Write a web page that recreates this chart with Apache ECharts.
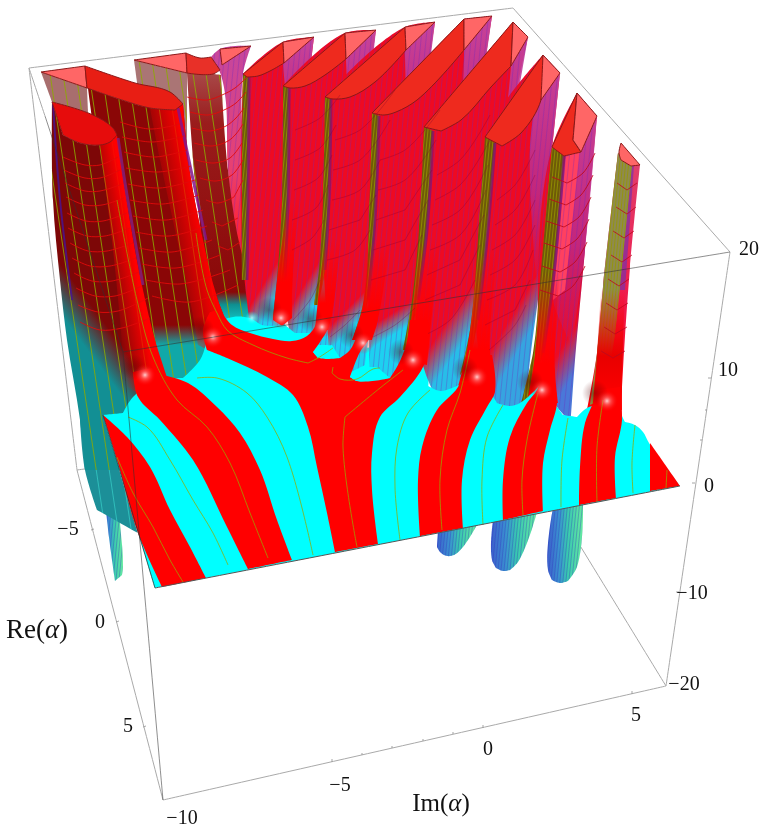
<!DOCTYPE html>
<html>
<head>
<meta charset="utf-8">
<title>Re(α) Im(α) surface</title>
<style>html,body{margin:0;padding:0;background:#fff}#main{width:769px;height:840px}</style>
<script src="https://cdn.jsdelivr.net/npm/echarts@6/dist/echarts.min.js"></script>
</head>
<body>
<div id="main"></div>
<script>
// tick labels
var reTicks = ['−5', '0', '5'];
var imTicks = ['−10', '−5', '0', '5'];
var zTicks = ['20', '10', '0', '−10', '−20'];
var rePos = [[68, 530], [100, 623], [128, 727]];
var imPos = [[182, 819], [340, 786], [488, 750], [636, 716]];
var zPos = [[749, 250], [728, 371], [709, 487], [692, 594], [684, 685]];

// bounding box, in picture units
var boxBack = [[[29, 68], [77, 470]], [[77, 470], [163, 800]], [[163, 800], [666, 686]], [[666, 686], [560, 513]], [[77, 470], [92, 468]], [[29, 68], [513, 8]], [[513, 8], [730, 252]], [[730, 252], [666, 686]], [[29, 68], [45, 116]]];
var boxFront = [[[45, 116], [123, 352]], [[123, 352], [730, 252]], [[123, 352], [163, 800]]];
var ticks = [[[91, 530], [94, 529]], [[116, 622], [119, 621]], [[143, 727], [146, 726]], [[332, 762], [332, 759]], [[362, 755], [362, 753]], [[392, 748], [392, 746]], [[423, 741], [423, 739]], [[453, 734], [453, 732]], [[483, 728], [483, 725]], [[632, 694], [632, 691]], [[711, 378], [708, 378]], [[707, 410], [705, 410]], [[702, 440], [700, 440]], [[695, 483], [692, 483]], [[679, 592], [676, 592]]];

// floor
var backFill = [[225, 280], [300, 335], [430, 350], [428, 395], [345, 395], [225, 330]];
var floorCyan = [[103, 415], [123, 413], [133, 397], [160, 380], [183, 378], [200, 360], [212, 330], [228, 318], [250, 318], [262, 325], [285, 325], [295, 333], [310, 333], [314, 352], [340, 358], [350, 378], [390, 378], [400, 370], [428, 386], [440, 391], [452, 388], [470, 380], [490, 393], [497, 403], [510, 406], [520, 403], [540, 385], [557, 407], [563, 415], [577, 417], [587, 408], [620, 400], [621, 413], [625, 422], [635, 425], [643, 432], [649, 443], [680, 486], [155, 588]];
var bandA = [[103, 415], [127, 437], [150, 467], [170, 510], [190, 547], [206, 578], [162, 587], [138, 533], [117, 460]];
var bandB = [[138, 397], [133, 372], [160, 366], [163, 375], [188, 383], [217, 407], [240, 433], [260, 470], [277, 520], [292, 560], [248, 569], [227, 527], [193, 460], [160, 420]];
var trunk = [[335, 552], [327, 513], [317, 467], [308, 427], [293, 395], [267, 377], [227, 358], [207, 350], [203, 330], [210, 312], [220, 310], [232, 325], [250, 333], [273, 339], [292, 341], [307, 336], [316, 324], [318, 305], [330, 305], [328, 328], [320, 342], [313, 352], [318, 358], [340, 358], [350, 350], [357, 335], [362, 310], [372, 310], [370, 337], [360, 352], [350, 377], [357, 381], [390, 378], [398, 365], [406, 345], [410, 320], [428, 320], [427, 353], [423, 367], [400, 397], [380, 417], [372, 453], [372, 490], [378, 544]];
var bandC = [[420, 536], [418, 480], [422, 447], [437, 410], [458, 387], [470, 355], [492, 355], [495, 392], [487, 407], [470, 440], [462, 480], [463, 528]];
var bandD = [[503, 520], [503, 480], [510, 437], [527, 403], [537, 390], [541, 378], [555, 385], [557, 403], [550, 430], [543, 463], [543, 511]];
var bandE = [[579, 505], [580, 467], [585, 423], [593, 403], [598, 390], [620, 387], [622, 420], [615, 457], [616, 498]];
var bandF = [[650, 491], [650, 443], [680, 486]];
var islandA = [[313, 352], [323, 347], [332, 345], [340, 358], [327, 359], [318, 358]];
var islandB = [[350, 377], [363, 368], [377, 367], [390, 378], [373, 380], [357, 381]];

// contour lines on the floor
var contours = [
    [[117, 457], [133, 493], [153, 527], [170, 560], [183, 582]],
    [[128, 417], [147, 427], [170, 460], [193, 500], [213, 533], [228, 565]],
    [[117, 200], [137, 300], [153, 357], [177, 400], [207, 427], [230, 463], [250, 513], [268, 558]],
    [[197, 378], [217, 378], [247, 393], [267, 417], [287, 457], [313, 555]],
    [[196, 233], [207, 290], [217, 313], [227, 330], [253, 345], [287, 358], [308, 363], [318, 358], [333, 348]],
    [[333, 367], [332, 373], [340, 379], [357, 379], [373, 369], [380, 368]],
    [[403, 370], [380, 388], [345, 417], [343, 447], [357, 547]],
    [[430, 390], [408, 413], [397, 447], [395, 487], [400, 540]],
    [[470, 350], [460, 393], [447, 430], [440, 480], [442, 530]],
    [[503, 405], [487, 437], [482, 480], [483, 525]],
    [[538, 393], [527, 440], [522, 480], [523, 515]],
    [[568, 418], [562, 460], [561, 507]],
    [[603, 400], [597, 447], [597, 502]],
    [[635, 425], [632, 463], [633, 493]],
    [[667, 470], [666, 488]]
];

// fins standing on the floor, back to front
var faces = [
    [[243, 74], [283, 42], [314, 37], [305, 110], [292, 200], [285, 335], [265, 335], [250, 325], [242, 250]],
    [[283, 86], [345, 33], [376, 30], [362, 130], [345, 260], [332, 345], [300, 345], [290, 335], [280, 250]],
    [[325, 97], [405, 27], [435, 22], [420, 120], [395, 250], [372, 320], [365, 365], [345, 375], [330, 360], [323, 250]],
    [[372, 113], [464, 19], [492, 16], [470, 150], [440, 280], [425, 340], [412, 385], [385, 395], [370, 385], [368, 250]],
    [[424, 127], [513, 22], [528, 37], [505, 150], [485, 280], [480, 360], [470, 400], [445, 405], [430, 385], [414, 300]],
    [[485, 137], [543, 55], [560, 73], [552, 150], [540, 283], [530, 360], [525, 415], [505, 420], [485, 400], [474, 297]],
    [[552, 147], [577, 93], [597, 116], [585, 250], [575, 360], [571, 416], [565, 416], [557, 407], [545, 380], [538, 283]]
];
var faceFade = [
    [[261, 288], [277, 298]], [[298, 295], [314, 305]], [[339, 317], [351, 329]], [[386, 317], [396, 333]],
    [[445, 325], [465, 339]], [[504, 329], [524, 341]], [[558, 354], [578, 366]]
];
var faceLow = ['#1ed0f0', '#1ed0f0', '#1ed0f0', '#1ed0f0', '#28bde8', '#36a4e0', '#4a78d8'];
var strips = [
    [[283, 42], [314, 37], [305, 110], [296, 170], [283, 63]],
    [[345, 33], [376, 30], [368, 100], [352, 200], [346, 60]],
    [[405, 27], [435, 22], [425, 100], [410, 190], [405, 55]],
    [[464, 19], [492, 16], [478, 110], [455, 220], [464, 60]],
    [[513, 22], [528, 37], [512, 130], [490, 250], [511, 66]],
    [[543, 55], [560, 73], [552, 150], [537, 285], [530, 150]],
    [[577, 93], [597, 116], [585, 250], [572, 345], [553, 300], [565, 160]]
];
var stripTop = [42, 33, 27, 19, 22, 55, 93];
var stripEnd = [170, 200, 190, 220, 250, 285, 345];
var capsRed = [
    [[243, 74], [283, 42], [284, 63], [270, 71], [258, 76], [247, 77]],
    [[283, 86], [345, 33], [346, 59], [325, 75], [305, 86], [290, 88]],
    [[325, 97], [405, 27], [406, 50], [375, 82], [350, 97], [333, 99]],
    [[372, 113], [464, 19], [464, 50], [417, 100], [396, 112], [384, 115]],
    [[424, 127], [513, 22], [511, 66], [491, 87], [461, 120], [441, 131]],
    [[485, 137], [543, 55], [541, 100], [521, 133], [502, 146]],
    [[552, 147], [577, 93], [573, 140], [581, 152], [564, 156]]
];
var capsPink = [
    [[283, 42], [314, 37], [284, 63]],
    [[345, 33], [376, 30], [346, 59]],
    [[405, 27], [435, 22], [406, 50]],
    [[464, 19], [492, 16], [464, 50]],
    [[513, 22], [528, 37], [511, 66]],
    [[543, 55], [560, 73], [541, 100]],
    [[577, 93], [597, 116], [581, 152], [573, 140]]
];
var olives = [
    [[243, 74], [249, 77], [248, 200], [247, 280], [242, 280], [242, 190]],
    [[283, 86], [289, 88], [288, 200], [285, 280], [277, 318], [273, 318], [277, 280], [282, 200]],
    [[325, 97], [331, 99], [329, 200], [325, 270], [318, 305], [314, 305], [319, 270], [323, 200]],
    [[372, 113], [379, 116], [375, 220], [368, 300], [358, 335], [354, 335], [364, 300], [369, 220]],
    [[424, 127], [433, 131], [427, 230], [418, 300], [408, 350], [403, 350], [412, 300], [419, 230]],
    [[485, 137], [495, 143], [487, 240], [478, 320], [468, 362], [460, 375], [470, 330], [478, 240]],
    [[552, 147], [564, 156], [553, 283], [543, 353], [527, 405], [520, 407], [533, 353], [540, 283]]
];
var stems = [
    [[288, 200], [298, 205], [292, 300], [292, 318], [282, 326], [273, 320], [277, 280]],
    [[325, 240], [340, 240], [332, 315], [328, 330], [315, 330], [318, 300]],
    [[368, 240], [390, 240], [378, 320], [372, 340], [352, 340], [362, 310]],
    [[420, 240], [440, 240], [430, 335], [427, 365], [405, 360], [410, 330]],
    [[478, 250], [498, 250], [490, 350], [495, 392], [458, 387], [468, 345]],
    [[541, 270], [560, 270], [555, 370], [558, 403], [527, 403], [535, 355]]
];
var pinkStrip = [[566, 157], [580, 150], [565, 290], [553, 300]];
var lastFin = [[618, 153], [640, 165], [630, 267], [622, 387], [621, 413], [587, 410], [597, 353], [603, 287]];
var lastFinOlive = [[618, 153], [632, 165], [620, 287], [612, 353], [600, 400], [590, 405], [597, 353], [603, 287]];
var lastFinPurple = [[628, 165], [634, 165], [625, 290], [618, 290]];
var lastFinStem = [[601, 290], [625, 290], [622, 387], [622, 410], [593, 403], [597, 355]];
var lastFinCap = [[619, 153], [621, 143], [640, 165], [631, 166], [621, 160]];
var glows = [[281, 318], [322, 327], [363, 343], [413, 360], [477, 377], [542, 390], [607, 401], [213, 337], [145, 375]];

// the big fins on the left
var wallB = [[41, 72], [87, 88], [88, 113], [52, 102]];
var wallC = [[134, 60], [187, 73], [187, 180], [150, 180]];
var capBPink = [[41, 72], [85, 66], [87, 88]];
var capBRed = [[85, 66], [135, 83], [170, 92], [183, 104], [175, 110], [150, 108], [122, 100], [87, 88]];
var capCPink = [[134, 60], [186, 53], [187, 73]];
var capCRed = [[186, 53], [200, 58], [211, 57], [220, 70], [213, 74], [187, 73]];
var capCBack = [[220, 49], [251, 46], [222, 65]];
var faceC = [[211, 57], [220, 49], [251, 46], [243, 74], [243, 150], [244, 285], [234, 240], [228, 170], [221, 75]];
var bodyC = [[187, 73], [213, 74], [221, 75], [228, 170], [237, 233], [250, 285], [260, 328], [235, 335], [212, 320], [195, 180]];
var bodyB = [[88, 88], [122, 100], [150, 108], [175, 110], [183, 104], [190, 173], [203, 240], [217, 297], [226, 330], [215, 360], [183, 385], [165, 385], [120, 260], [100, 170]];
var stemB = [[150, 108], [175, 110], [183, 104], [190, 173], [203, 240], [217, 297], [228, 325], [212, 352], [198, 345], [190, 300], [175, 230], [160, 160]];
var bodyA = [[52, 102], [63, 135], [80, 143], [100, 145], [110, 142], [117, 135], [125, 190], [135, 250], [143, 290], [155, 340], [165, 385], [133, 405], [123, 420], [103, 420], [120, 470], [85, 470], [80, 420], [67, 340], [60, 280], [53, 200]];
var stemA = [[100, 145], [117, 135], [125, 190], [135, 250], [143, 290], [155, 340], [168, 380], [140, 395], [125, 385], [120, 320], [112, 240]];
var capA = [[52, 102], [93, 115], [113, 128], [117, 135], [110, 142], [100, 145], [80, 143], [63, 135]];
var tealWall = [[80, 420], [85, 470], [97, 510], [138, 533], [103, 415]];

// fins that hang below the floor
var lowFins = [
    [[438, 530], [437, 547], [441, 553], [447, 556], [454, 555], [463, 547], [477, 525]],
    [[493, 520], [492, 560], [496, 568], [503, 571], [510, 570], [518, 562], [537, 512]],
    [[553, 508], [548, 570], [552, 580], [560, 583], [568, 581], [577, 567], [583, 503]],
    [[103, 460], [107, 520], [115, 581], [122, 575], [123, 567], [120, 523], [115, 460]]
];

// constant level lines on the fins
var arcsLeft = [
    [[63, 157], [85, 165], [100, 165], [118, 157]], [[64, 170], [85, 178], [100, 178], [120, 170]],
    [[65, 183], [85, 191], [100, 191], [122, 184]], [[66, 197], [85, 205], [102, 205], [124, 198]],
    [[67, 213], [86, 221], [103, 221], [127, 213]], [[68, 228], [87, 236], [105, 236], [130, 228]],
    [[70, 243], [88, 251], [107, 251], [133, 243]], [[72, 258], [90, 266], [110, 266], [136, 258]],
    [[74, 273], [92, 281], [112, 281], [139, 272]], [[76, 288], [95, 296], [115, 296], [142, 286]],
    [[78, 305], [98, 312], [118, 311], [148, 298]], [[80, 322], [100, 330], [122, 328], [150, 318]],
    [[120, 122], [150, 129], [180, 124]], [[122, 137], [152, 142], [184, 136]], [[124, 152], [155, 157], [187, 150]],
    [[126, 168], [158, 172], [191, 166]], [[128, 184], [160, 188], [195, 180]], [[130, 200], [163, 204], [199, 195]],
    [[133, 216], [166, 220], [203, 210]], [[136, 232], [169, 236], [207, 226]], [[139, 248], [172, 252], [212, 240]],
    [[142, 264], [176, 268], [220, 255]], [[146, 280], [180, 284], [230, 270]], [[152, 296], [190, 302], [238, 285]],
    [[187, 97], [207, 100], [222, 95], [235, 88], [248, 76]], [[190, 112], [208, 115], [224, 110], [236, 103], [246, 92]],
    [[192, 128], [210, 131], [226, 126], [236, 118], [244, 108]], [[194, 143], [212, 146], [228, 141], [236, 134], [243, 124]],
    [[196, 160], [214, 163], [230, 158], [242, 143]], [[200, 178], [216, 181], [232, 175], [243, 160]],
    [[206, 200], [218, 203], [234, 197], [243, 180]], [[212, 222], [222, 226], [238, 218]], [[218, 246], [228, 250], [240, 242]]
];
var arcsLast = [
    [[552, 177], [567, 183], [583, 173], [595, 153]], [[549, 199], [566, 205], [581, 195], [593, 175]], [[546, 221], [564, 227], [579, 217], [591, 197]],
    [[544, 243], [562, 249], [577, 239], [589, 219]], [[542, 266], [560, 272], [575, 262], [587, 242]], [[540, 290], [558, 296], [573, 286], [585, 266]],
    [[617, 183], [627, 190], [637, 183]], [[616, 207], [627, 214], [636, 207]], [[613, 231], [624, 238], [634, 231]], [[611, 255], [622, 262], [632, 255]],
    [[608, 279], [619, 286], [629, 279]], [[606, 303], [617, 310], [628, 303]], [[604, 327], [615, 334], [627, 327]], [[601, 351], [613, 358], [625, 351]]
];
var arcsMid = [
    [[497, 200], [515, 185], [535, 150]], [[495, 225], [515, 210], [535, 175]], [[492, 250], [515, 235], [535, 200]], [[490, 275], [515, 260], [535, 225]],
    [[487, 300], [515, 285], [533, 250]], [[485, 325], [515, 310], [530, 280]], [[489, 350], [515, 325], [526, 305]],
    [[437, 175], [460, 160], [490, 115]], [[435, 200], [460, 185], [490, 140]], [[432, 225], [460, 210], [488, 165]], [[430, 250], [460, 235], [486, 190]],
    [[427, 275], [460, 260], [484, 215]], [[425, 300], [460, 285], [480, 245]], [[425, 335], [450, 320], [475, 280]],
    [[380, 160], [405, 150], [440, 110]], [[378, 190], [405, 180], [436, 140]], [[376, 220], [405, 210], [432, 170]], [[373, 250], [405, 240], [428, 200]], [[371, 280], [405, 270], [422, 235]], [[373, 337], [395, 325], [415, 308]],
    [[335, 140], [360, 130], [395, 90]], [[333, 170], [360, 160], [390, 120]], [[332, 200], [360, 190], [380, 160]], [[329, 230], [360, 220], [376, 195]], [[327, 260], [355, 250], [370, 230]], [[330, 337], [345, 325], [360, 310]],
    [[295, 130], [320, 118], [340, 95]], [[295, 160], [320, 148], [336, 125]], [[294, 190], [318, 178], [332, 155]], [[292, 220], [316, 208], [328, 185]], [[292, 250], [312, 238], [324, 220]], [[293, 320], [310, 300], [320, 280]]
];

var main = echarts.init(document.getElementById('main'), null, {renderer: 'canvas'});

// repeating tile of parallel mesh lines, fill for the fins
function mesh(color, gap, rise, dir, width) {
    var c = document.createElement('canvas');
    c.width = gap;
    c.height = rise;
    var g = c.getContext('2d');
    g.strokeStyle = color;
    g.lineWidth = width;
    for (var k = -2; k <= 2; k++) {
        g.beginPath();
        g.moveTo(k * gap, 0);
        g.lineTo(k * gap + dir * gap, rise);
        g.stroke();
    }
    return {image: c, repeat: 'repeat'};
}
var greenMesh = mesh('rgba(140,170,0,.85)', 13, 87, 1, 1);
var tealMesh = mesh('rgba(60,220,210,.6)', 13, 87, 1, 1);
var purpleMesh = mesh('rgba(110,40,190,.32)', 5, 50, -1, 1);
var denseMesh = mesh('rgba(50,50,190,.35)', 3, 30, -1, 1);
var oliveMesh = mesh('rgba(150,150,0,.8)', 3, 30, -1, 1);

function line(p0, p1, stops) {
    return new echarts.graphic.LinearGradient(p0[0], p0[1], p1[0], p1[1], stops, true);
}
function stop(o, c) {
    return {offset: o, color: c};
}

// every layer of the picture, painted in this order
var layers = [];
function poly(pts, fill, opts) {
    layers.push(Object.assign({kind: 'polygon', pts: pts, fill: fill}, opts || {}));
}
function path(pts, stroke, width) {
    layers.push({kind: 'polyline', pts: pts, stroke: stroke, width: width});
}
function glow(pt, rx, ry, stops) {
    layers.push({kind: 'ellipse', pts: [pt], rx: rx, ry: ry, stops: stops});
}
function label(pt, text, size) {
    layers.push({kind: 'text', pts: [pt], text: text, size: size});
}

boxBack.forEach(function (s) { path(s, '#aaaaaa', 1); });
ticks.forEach(function (s) { path(s, '#999999', 1); });

// below the floor
lowFins.forEach(function (f) {
    var xs = f.map(function (p) { return p[0]; });
    var x0 = Math.min.apply(null, xs), x1 = Math.max.apply(null, xs);
    var fill = line([x0, 0], [x1, 0], [stop(0, '#3c62cc'), stop(0.3, '#3a8fd0'), stop(0.55, '#38c8b0'), stop(1, '#66eca0')]);
    poly(f, fill);
    poly(f, denseMesh);
});
poly(tealWall, '#1c8f98');
poly(tealWall, tealMesh);
poly(backFill, '#00ffff');

// the row of fins
poly(wallC, 'rgba(165,110,110,.95)');
poly(wallC, greenMesh);
poly(faceC, line([0, 60], [0, 240], [stop(0, '#c8469a'), stop(0.6, '#e84070'), stop(1, '#ff2030')]));
poly(faceC, purpleMesh);
poly(bodyC, line([0, 73], [0, 322], [stop(0, '#a84848'), stop(0.2, '#9a1c1c'), stop(0.88, '#8a0808'), stop(0.93, '#0f8f90'), stop(1, '#10c8c8')]));
poly(bodyC, greenMesh);
poly(capCPink, '#ff6666', {stroke: '#8a1818'});
poly(capCRed, '#e83028', {stroke: '#8a1818'});
poly(capCBack, '#ff6666', {stroke: '#8a1818'});

faces.forEach(function (f, i) {
    poly(f, line(faceFade[i][0], faceFade[i][1], [stop(0, '#ee0a22'), stop(1, faceLow[i])]));
    poly(strips[i], line([0, stripTop[i]], [0, stripEnd[i]], [stop(0, 'rgba(196,70,160,.95)'), stop(0.6, 'rgba(185,45,145,.8)'), stop(1, 'rgba(180,30,130,.15)')]));
    if (i === 6) {
        poly(pinkStrip, '#ff4060');
    }
    poly(f, purpleMesh);
    poly(olives[i], '#6e5a08');
    poly(olives[i], oliveMesh);
    path([olives[i][1], olives[i][2], olives[i][3]], 'rgba(120,20,120,.7)', 3);
    if (stems[i - 1]) {
        poly(stems[i - 1], line([0, stems[i - 1][0][1]], [0, stems[i - 1][3][1]], [stop(0, 'rgba(255,0,0,0)'), stop(0.7, '#ff0000'), stop(1, '#ff0000')]));
    }
    poly(capsRed[i], '#ee2a1e', {stroke: '#8a1818'});
    poly(capsPink[i], '#ff6666', {stroke: '#8a1818'});
});
arcsMid.forEach(function (a) { path(a, 'rgba(130,0,50,.4)', 0.8); });

// last thin fin
poly(lastFin, line([0, 160], [0, 410], [stop(0, '#e0406e'), stop(0.6, '#f01848'), stop(1, '#ff0000')]));
poly(lastFinPurple, 'rgba(120,50,170,.7)');
poly(lastFinOlive, '#8e8a50');
poly(lastFinOlive, oliveMesh);
poly(lastFinStem, line([0, 290], [0, 400], [stop(0, 'rgba(255,0,0,0)'), stop(0.6, '#e80000'), stop(1, '#ff0000')]));
poly(lastFinCap, '#ff6666', {stroke: '#8a1818'});

// two large fins in front
poly(wallB, 'rgba(165,105,105,.97)');
poly(wallB, greenMesh);
poly(bodyB, line([0, 325], [0, 345], [stop(0, '#8a0606'), stop(1, '#10a8a8')]));
poly(bodyB, greenMesh);
poly(stemB, line([160, 200], [195, 193], [stop(0, 'rgba(255,0,0,0)'), stop(1, '#ff0000')]));
path([[178, 108], [191, 170], [206, 240]], 'rgba(130,20,140,.85)', 3);
poly(capBPink, '#ff6666', {stroke: '#8a1818'});
poly(capBRed, '#e81e14', {stroke: '#8a1818'});

poly(bodyA, line([107, 326], [83, 344], [stop(0, '#7d0707'), stop(1, '#128f94')]));
poly(bodyA, greenMesh);
poly(stemA, line([103, 250], [132, 245], [stop(0, 'rgba(255,0,0,0)'), stop(1, '#ff0000')]));
path([[53, 104], [60, 200], [72, 300]], 'rgba(70,20,150,.8)', 2);
path([[118, 138], [127, 195], [143, 285]], 'rgba(130,30,130,.8)', 3);
poly(capA, '#e60c0c', {stroke: '#8a1818'});
arcsLeft.forEach(function (a) { path(a, 'rgba(225,10,10,.9)', 1); });
arcsLast.forEach(function (a) { path(a, 'rgba(190,10,30,.9)', 1); });

// the floor
poly(floorCyan, '#00ffff');
[bandA, bandB, trunk, bandC, bandD, bandE, bandF].forEach(function (b) {
    poly(b, '#ff0000');
});
poly(islandA, '#00ffff');
poly(islandB, '#00ffff');
contours.forEach(function (c) { path(c, 'rgba(150,170,0,.95)', 0.8); });

// dark shoulder and bright spot where each fin leaves the floor
glow([252, 318], 7, 15, [stop(0, 'rgba(170,255,255,.95)'), stop(1, 'rgba(0,255,255,0)')]);
glows.forEach(function (g) {
    glow([g[0] - 12, g[1] - 8], 13, 20, [stop(0, 'rgba(90,0,0,.45)'), stop(1, 'rgba(90,0,0,0)')]);
    glow(g, 11, 20, [stop(0, 'rgba(255,230,230,.9)'), stop(0.35, 'rgba(255,130,130,.55)'), stop(1, 'rgba(255,0,0,0)')]);
});

path([[155, 588], [680, 486]], '#555555', 1);
path([[103, 415], [155, 588]], '#333333', 0.8);
boxFront.forEach(function (s) { path(s, 'rgba(50,50,50,.55)', 1); });

reTicks.forEach(function (t, i) { label(rePos[i], t, 20); });
imTicks.forEach(function (t, i) { label(imPos[i], t, 20); });
zTicks.forEach(function (t, i) { label(zPos[i], t, 20); });
label([37, 631], 'Re({a|α})', 27);
label([441, 804], 'Im({a|α})', 25);

// curve through the read points; a sharp turn stays a corner
function curveData(pts, closed) {
    var n = pts.length;
    function at(i) {
        return closed ? pts[(i + n) % n] : pts[Math.max(0, Math.min(n - 1, i))];
    }
    var dirs = pts.map(function (p, i) {
        var a = at(i - 1), b = at(i + 1);
        var ux = p[0] - a[0], uy = p[1] - a[1], vx = b[0] - p[0], vy = b[1] - p[1];
        var lu = Math.hypot(ux, uy) || 1, lv = Math.hypot(vx, vy) || 1;
        if ((ux * vx + uy * vy) / (lu * lv) < 0.8) {
            return [0, 0];
        }
        var tx = ux / lu + vx / lv, ty = uy / lu + vy / lv, lt = Math.hypot(tx, ty) || 1;
        return [tx / lt, ty / lt];
    });
    var d = 'M' + pts[0][0] + ' ' + pts[0][1];
    var m = closed ? n : n - 1;
    for (var i = 0; i < m; i++) {
        var p = pts[i], q = at(i + 1), s = Math.hypot(q[0] - p[0], q[1] - p[1]) / 3;
        var t0 = dirs[i], t1 = dirs[(i + 1) % n];
        d += 'C' + (p[0] + t0[0] * s) + ' ' + (p[1] + t0[1] * s) + ' ' + (q[0] - t1[0] * s) + ' ' + (q[1] - t1[1] * s) + ' ' + q[0] + ' ' + q[1];
    }
    return d + (closed ? 'Z' : '');
}

function drawLayer(params, api) {
    var l = layers[params.dataIndex];
    var pts = l.pts.map(function (p) { return api.coord(p); });
    if (l.kind === 'polygon') {
        return {
            type: 'path',
            shape: {pathData: curveData(pts, true)},
            style: {fill: l.fill, stroke: l.stroke || null, lineWidth: l.stroke ? 1 : 0}
        };
    }
    if (l.kind === 'polyline') {
        return {
            type: 'path',
            shape: {pathData: curveData(pts, false)},
            style: {fill: null, stroke: l.stroke, lineWidth: l.width}
        };
    }
    if (l.kind === 'ellipse') {
        return {
            type: 'ellipse',
            shape: {cx: pts[0][0], cy: pts[0][1], rx: l.rx, ry: l.ry},
            style: {fill: new echarts.graphic.RadialGradient(0.5, 0.5, 0.5, l.stops)}
        };
    }
    return {
        type: 'text',
        style: {
            x: pts[0][0],
            y: pts[0][1],
            text: l.text,
            font: l.size + 'px "Liberation Serif"',
            fill: '#111111',
            align: 'center',
            verticalAlign: 'middle',
            rich: {a: {fontStyle: 'italic', fontSize: l.size, fontFamily: 'Liberation Serif', fill: '#111111'}}
        }
    };
}

var option = {
    backgroundColor: '#FFFFFF',
    animation: false,
    grid: {left: 0, right: 0, top: 0, bottom: 0},
    xAxis: {type: 'value', min: 0, max: 769, show: false},
    yAxis: {type: 'value', min: 0, max: 840, inverse: true, show: false},
    series: [{
        type: 'custom',
        coordinateSystem: 'cartesian2d',
        clip: false,
        silent: true,
        progressive: 0,
        renderItem: drawLayer,
        data: layers.map(function (l, i) { return [l.pts[0][0], l.pts[0][1], i]; })
    }]
};

main.setOption(option);
</script>
</body>
</html>
